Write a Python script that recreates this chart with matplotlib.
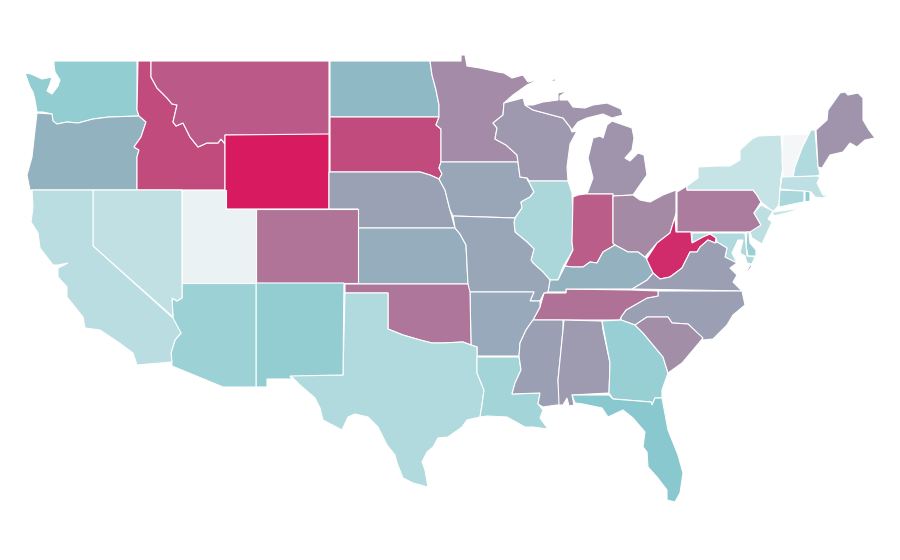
#!/usr/bin/env python3

from matplotlib import pyplot as plt
from matplotlib.colors import LinearSegmentedColormap

# state outlines
WA = [(54,61),(137,61),(137,110),(139,116),(109,117),(93,119),(78,123),(67,122),(57,124),(53,122),(52,114),(43,112),(37,112),(35,100),(33,92),(30,87),(25,73),(31,74),(42,79),(52,77),(50,84),(47,91),(52,94),(58,86),(60,80),(55,72),(54,65)]
OR = [(37,113),(52,114),(53,121),(57,124),(67,122),(78,123),(93,119),(109,117),(139,116),(146,122),(141,137),(134,147),(139,150),(137,157),(137,190),(30,190),(27,175),(32,157),(35,130)]
ID = [(138,61),(151,61),(151,77),(157,88),(167,98),(172,104),(177,105),(173,122),(176,126),(183,123),(190,137),(198,147),(207,143),(218,143),(221,139),(225,144),(225,190),(137,190),(137,157),(139,150),(134,147),(141,137),(146,122),(139,116),(137,110)]
MT = [(151,61),(329,61),(329,135),(225,135),(225,144),(221,139),(218,143),(207,143),(198,147),(190,137),(183,123),(176,126),(173,122),(177,105),(172,104),(167,98),(157,88),(151,77)]
WY = [(225,135),(329,134),(329,209),(225,209)]
ND = [(330,61),(430,61),(432,75),(436,90),(439,105),(439,117),(330,117)]
SD = [(330,117),(439,117),(436,125),(441,129),(441,162),(439,168),(442,174),(439,179),(430,175),(420,172),(330,172)]
NE = [(329,172),(420,172),(430,175),(439,179),(445,190),(450,210),(455,228),(358,228),(358,209),(329,209)]
KS = [(358,228),(455,228),(460,234),(466,245),(468,284),(358,284)]
CO = [(256,209),(358,209),(358,283),(256,283)]
MN = [(430,61),(461,61),(461,55),(465,55),(467,66),(480,68),(498,72),(504,73),(512,78),(523,75),(528,82),(540,79),(527,85),(513,95),(504,103),(503,115),(493,123),(497,128),(495,139),(506,145),(517,155),(518,162),(441,162),(441,129),(436,125),(439,117),(439,105),(436,90),(432,75)]
IA = [(441,162),(518,162),(520,177),(527,178),(534,192),(530,197),(521,202),(522,208),(515,218),(453,216),(450,210),(445,190),(439,179),(442,174),(439,168)]
WI = [(504,103),(523,98),(525,105),(533,110),(563,118),(570,127),(572,132),(577,131),(570,144),(567,167),(568,181),(528,181),(527,178),(520,177),(518,162),(517,155),(506,145),(495,139),(497,128),(493,123),(503,115)]
MI_UP = [(525,105),(533,105),(543,102),(558,100),(558,93),(567,91),(560,96),(560,100),(568,100),(573,107),(585,108),(593,105),(607,103),(621,109),(623,115),(612,118),(603,114),(587,118),(578,122),(572,130),(570,127),(563,118),(533,110)]
MI_ISLE = [(549,82),(556,78),(555,81)]
MI_LOW = [(587,194),(593,178),(588,158),(593,138),(600,136),(603,138),(607,125),(612,121),(632,128),(634,138),(632,150),(625,158),(630,161),(638,153),(644,155),(647,175),(642,182),(633,195),(613,196),(613,194)]
IL = [(529,181),(568,181),(572,193),(573,220),(572,242),(573,250),(563,267),(558,280),(550,280),(543,272),(533,263),(531,260),(534,249),(527,242),(515,232),(514,222),(515,218),(522,208),(521,202),(530,197),(534,192),(527,178)]
IN = [(573,197),(578,195),(585,194),(613,194),(613,243),(615,245),(603,252),(597,263),(590,262),(583,267),(572,267),(565,266),(573,250),(572,242)]
OH = [(613,196),(633,195),(640,200),(650,202),(663,195),(676,190),(676,213),(675,217),(670,233),(657,243),(645,257),(638,252),(628,252),(615,245),(613,243)]
PA = [(677,192),(687,186),(687,190),(753,190),(757,195),(761,202),(754,213),(761,225),(756,232),(677,232)]
NY = [(687,190),(687,186),(698,178),(698,167),(718,166),(730,166),(740,160),(740,150),(752,139),(758,136),(781,135),(782,150),(783,167),(781,178),(780,190),(779,205),(773,212),(802,208),(790,212),(774,216),(771,210),(761,202),(757,195),(753,190)]
VT = [(783,135),(809,134),(802,148),(795,167),(793,177),(783,177),(782,160)]
NH = [(811,130),(815,130),(818,167),(820,174),(817,176),(793,177),(795,167),(802,148),(809,134)]
ME = [(816,130),(827,120),(828,110),(840,93),(845,92),(848,95),(858,93),(863,98),(863,120),(869,130),(875,138),(865,140),(857,147),(850,143),(843,152),(830,155),(822,168),(818,167)]
MA = [(782,177),(817,176),(820,177),(817,183),(823,195),(830,195),(822,198),(815,197),(811,192),(780,189)]
CT = [(780,190),(804,191),(804,202),(793,204),(780,207),(779,205)]
RI = [(805,191),(810,192),(810,201),(805,202)]
NJ = [(761,205),(773,211),(768,219),(772,222),(762,244),(752,238),(750,232),(761,225),(754,213)]
DE = [(747,232),(749,232),(750,243),(756,250),(756,256),(748,256),(746,245)]
MD = [(692,233),(745,233),(747,256),(755,257),(752,264),(747,263),(745,256),(740,253),(743,240),(738,240),(732,253),(737,263),(725,257),(727,248),(717,242),(716,238),(710,234),(703,237),(692,243)]
WV = [(675,217),(676,232),(691,232),(692,243),(703,237),(710,234),(716,238),(715,243),(708,240),(700,247),(697,252),(690,252),(682,268),(670,277),(660,279),(653,273),(646,260),(657,243),(670,233)]
VA = [(632,289),(647,280),(653,273),(660,279),(670,277),(682,268),(690,252),(697,252),(700,247),(708,240),(715,243),(717,242),(727,248),(725,257),(737,263),(730,268),(737,275),(733,282),(742,291)]
VA_SHORE = [(750,265),(752,266),(746,274),(743,278)]
NC = [(658,291),(742,291),(745,305),(733,315),(727,325),(713,339),(703,340),(688,324),(672,323),(668,317),(647,317),(635,325),(621,320),(621,317),(626,310),(647,298),(658,296)]
TN = [(544,293),(566,293),(566,289),(632,290),(658,291),(658,296),(647,298),(626,310),(621,317),(620,320),(533,320),(540,307)]
KY = [(548,292),(566,292),(566,289),(632,289),(647,280),(653,273),(646,258),(638,252),(628,252),(615,245),(603,252),(597,263),(590,262),(583,267),(572,267),(565,266),(558,280),(550,280)]
MO = [(453,216),(515,218),(514,222),(515,232),(527,242),(534,249),(531,260),(533,263),(543,272),(550,280),(548,292),(544,293),(540,301),(530,301),(534,292),(468,292),(468,284),(466,245),(460,234),(455,228)]
AR = [(470,292),(534,292),(530,301),(540,301),(540,307),(533,320),(526,330),(520,343),(519,356),(477,356),(477,347),(471,345)]
OK = [(345,284),(468,284),(470,292),(471,345),(463,342),(443,343),(432,343),(420,340),(403,335),(388,329),(388,293),(345,293)]
TX = [(345,293),(388,293),(388,329),(403,335),(420,340),(432,343),(443,343),(463,342),(471,345),(477,347),(477,373),(484,390),(482,405),(480,417),(467,420),(462,427),(448,437),(438,438),(433,447),(427,452),(422,462),(425,470),(428,487),(413,483),(403,478),(397,463),(395,455),(387,445),(378,427),(368,417),(355,414),(348,417),(342,430),(323,420),(320,408),(315,398),(300,385),(290,375),(343,375)]
NM = [(256,283),(344,283),(343,375),(290,376),(292,379),(267,379),(267,387),(256,387)]
AZ = [(182,283),(256,283),(256,387),(223,387),(172,366),(171,353),(175,340),(181,333),(173,320),(172,298),(177,301),(182,298)]
UT = [(182,190),(226,190),(226,209),(256,209),(256,283),(182,283)]
NV = [(93,190),(182,190),(182,298),(177,301),(172,298),(173,317),(93,246)]
CA = [(32,190),(93,190),(93,246),(173,318),(181,333),(175,340),(171,353),(172,362),(137,365),(133,353),(118,342),(100,330),(85,328),(83,317),(67,297),(67,287),(58,277),(58,268),(68,263),(58,265),(53,265),(40,248),(38,233),(31,222),(33,207)]
LA = [(477,357),(519,357),(521,370),(515,383),(512,394),(540,393),(538,404),(543,410),(540,418),(548,429),(533,427),(525,427),(507,417),(487,416),(480,417),(482,405),(484,390),(477,373)]
MS = [(533,320),(563,320),(563,330),(558,380),(560,405),(557,405),(543,407),(538,404),(540,393),(512,394),(515,383),(521,370),(519,356),(520,343),(526,330)]
AL = [(564,320),(602,321),(603,330),(610,363),(609,393),(572,395),(574,405),(569,406),(567,398),(563,405),(559,405),(558,380)]
GA = [(602,321),(621,320),(635,325),(643,333),(663,357),(668,373),(662,390),(662,398),(655,398),(652,405),(651,402),(613,399),(609,393),(610,363)]
SC = [(635,325),(647,317),(668,317),(672,323),(688,324),(703,338),(693,350),(682,363),(668,373),(663,357),(643,333)]
FL = [(572,395),(609,395),(613,399),(651,402),(652,405),(655,398),(662,398),(668,430),(678,455),(683,473),(680,493),(675,502),(667,500),(667,490),(657,477),(648,467),(647,452),(643,447),(645,432),(633,418),(623,410),(608,417),(602,408),(583,404),(575,403)]

state_shapes = [WA, OR, ID, MT, WY, ND, SD, NE, KS, CO, MN, IA, WI, MI_UP, MI_ISLE, MI_LOW, IL, IN, OH, PA, NY, VT, NH, ME, MA, CT, RI, NJ, DE, MD, WV, VA, VA_SHORE, NC, TN, KY, MO, AR, OK, TX, NM, AZ, UT, NV, CA, LA, MS, AL, GA, SC, FL]

# shade of each state, 0 to 1 along the colour ramp
state_vals = [.46, .566, .86, .82, 1.0, .544, .86, .615, .58, .745, .675, .60, .64, .65, .65, .65, .34, .81, .68, .72, .216, .0, .31, .65, .25, .35, .47, .26, .42, .32, .95, .62, .62, .62, .75, .57, .60, .59, .735, .31, .45, .41, .05, .24, .275, .38, .62, .635, .43, .67, .50]

ramp = ["#f5f6f8", "#88c9ce", "#d81b60"]
cmap = LinearSegmentedColormap.from_list("ramp", ramp)

fig = plt.figure(figsize=(9, 5.6), dpi=100)
ax = fig.add_axes([0, 0, 1, 1])

for shape, val in zip(state_shapes, state_vals):
    xs = [p[0] for p in shape]
    ys = [p[1] for p in shape]
    ax.fill(xs, ys, facecolor=cmap(val), edgecolor='white', linewidth=0.8)

ax.set_xlim(0, 900)
ax.set_ylim(560, 0)
ax.axis('off')

plt.savefig('out.png', dpi=100)
